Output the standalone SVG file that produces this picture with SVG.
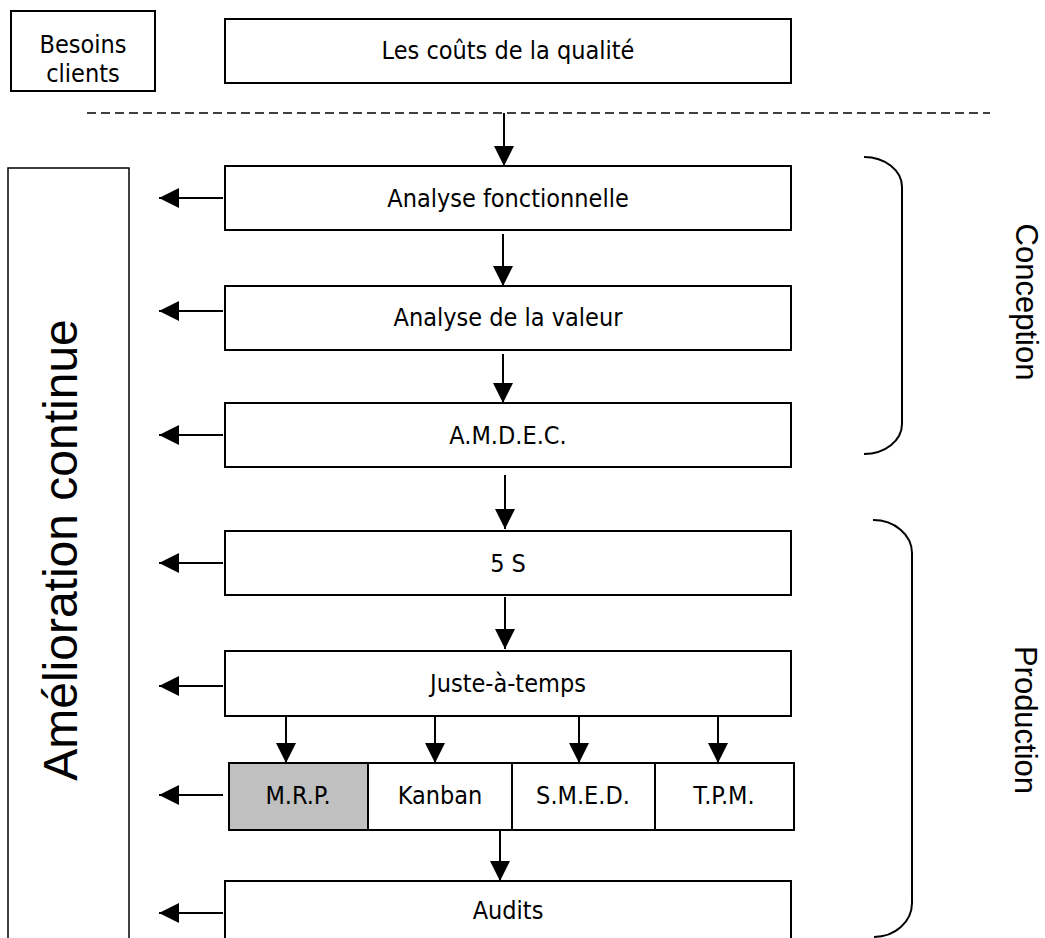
<svg xmlns="http://www.w3.org/2000/svg" width="1045" height="938" viewBox="0 0 1045 938">
<defs>
<style>
.box{fill:#fff;stroke:#000;stroke-width:2}
.grey{fill:#c0c0c0;stroke:#000;stroke-width:2}
.lbl{font-family:"DejaVu Sans Condensed","DejaVu Sans",sans-serif;font-stretch:condensed;font-size:25px;fill:#000;text-anchor:middle}
.vl{font-family:"Liberation Sans",Arial,sans-serif;fill:#000;text-anchor:middle}
.ln{stroke:#000;stroke-width:2;fill:none}
.br{stroke:#000;stroke-width:2;fill:none}
</style>
<marker id="ah" viewBox="0 0 20 20" refX="20" refY="10" markerWidth="20" markerHeight="20" markerUnits="userSpaceOnUse" orient="auto">
<path d="M0,0 L20,10 L0,20 Z" fill="#000"/>
</marker>
</defs>
<rect width="1045" height="938" fill="#fff"/>

<g id="besoins">
<rect class="box" x="11" y="11" width="144" height="80"/>
<text class="lbl" x="83" y="53">Besoins</text>
<text class="lbl" x="83" y="82">clients</text>
</g>
<g id="couts">
<rect class="box" x="225" y="19" width="566" height="64"/>
<text class="lbl" x="508" y="59">Les coûts de la qualité</text>
</g>

<g id="separator">
<line x1="87" y1="113" x2="990" y2="113" stroke="#000" stroke-width="1.5" stroke-dasharray="9 5"/>
</g>

<g id="amelioration">
<rect x="8" y="168" width="121" height="790" fill="#fff" stroke="#000" stroke-width="1.5"/>
<text class="vl" font-size="48" transform="translate(77,550) rotate(-90)">Amélioration continue</text>
</g>

<g id="analyse-fonctionnelle">
<rect class="box" x="225" y="166" width="566" height="64"/>
<text class="lbl" x="508" y="207">Analyse fonctionnelle</text>
</g>
<g id="analyse-valeur">
<rect class="box" x="225" y="286" width="566" height="64"/>
<text class="lbl" x="508" y="326">Analyse de la valeur</text>
</g>
<g id="amdec">
<rect class="box" x="225" y="403" width="566" height="64"/>
<text class="lbl" x="508" y="444">A.M.D.E.C.</text>
</g>
<g id="cinq-s">
<rect class="box" x="225" y="531" width="566" height="64"/>
<text class="lbl" x="508" y="572">5 S</text>
</g>
<g id="juste-a-temps">
<rect class="box" x="225" y="651" width="566" height="65"/>
<text class="lbl" x="508" y="692">Juste-à-temps</text>
</g>
<g id="mrp">
<rect class="grey" x="229" y="763" width="139" height="67"/>
<text class="lbl" x="298" y="804">M.R.P.</text>
</g>
<g id="kanban">
<rect class="box" x="368" y="763" width="144" height="67"/>
<text class="lbl" x="440" y="804">Kanban</text>
</g>
<g id="smed">
<rect class="box" x="512" y="763" width="143" height="67"/>
<text class="lbl" x="583" y="804">S.M.E.D.</text>
</g>
<g id="tpm">
<rect class="box" x="655" y="763" width="139" height="67"/>
<text class="lbl" x="724" y="804">T.P.M.</text>
</g>
<g id="audits">
<rect class="box" x="225" y="881" width="566" height="80"/>
<text class="lbl" x="508" y="919">Audits</text>
</g>

<g id="conception">
<path class="br" d="M864,157 A38,30 0 0 1 902,187 V424 A38,30 0 0 1 864,454"/>
<text class="vl" font-size="31" transform="translate(1016,302) rotate(90)">Conception</text>
</g>
<g id="production">
<path class="br" d="M873,520 A39,33 0 0 1 912,553 V903 A38,34 0 0 1 874,937"/>
<text class="vl" font-size="31" transform="translate(1015,720) rotate(90)">Production</text>
</g>

<g id="connectors" class="ln" marker-end="url(#ah)">
<line x1="504" y1="113" x2="504" y2="166"/>
<line x1="503" y1="234" x2="503" y2="286"/>
<line x1="503" y1="354" x2="503" y2="403"/>
<line x1="505" y1="475" x2="505" y2="529"/>
<line x1="505" y1="597" x2="505" y2="649"/>
<line x1="286" y1="716" x2="286" y2="763"/>
<line x1="435" y1="716" x2="435" y2="763"/>
<line x1="579" y1="716" x2="579" y2="763"/>
<line x1="718" y1="716" x2="718" y2="763"/>
<line x1="500" y1="830" x2="500" y2="881"/>
<line x1="223" y1="198" x2="159" y2="198"/>
<line x1="223" y1="311" x2="159" y2="311"/>
<line x1="223" y1="435" x2="159" y2="435"/>
<line x1="223" y1="563" x2="159" y2="563"/>
<line x1="223" y1="686" x2="159" y2="686"/>
<line x1="223" y1="795" x2="159" y2="795"/>
<line x1="223" y1="913" x2="159" y2="913"/>
</g>
</svg>
